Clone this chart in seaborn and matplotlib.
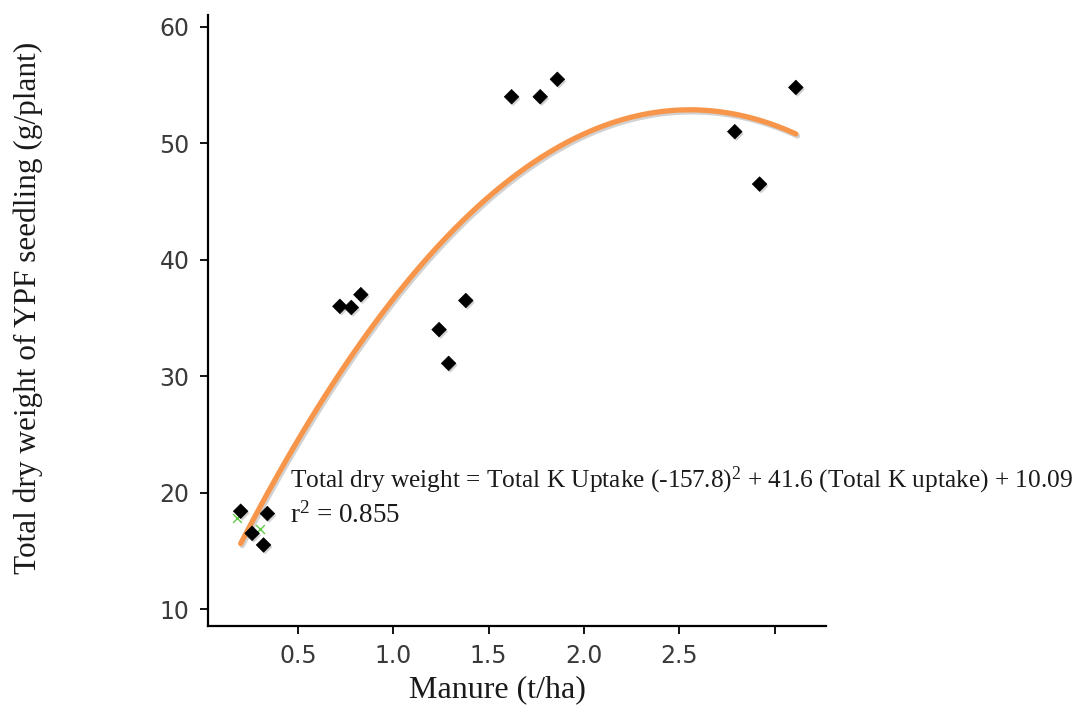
import matplotlib
matplotlib.use("Agg")
import matplotlib.pyplot as plt
import matplotlib.patheffects as pe
import numpy as np
import pandas as pd
import seaborn as sns

# Manure rate (t/ha) and total seedling dry weight (g/plant)
manure = [0.20, 0.34, 0.26, 0.32, 0.72, 0.78, 0.83, 1.24, 1.29, 1.38,
          1.62, 1.77, 1.86, 2.79, 2.92, 3.11]
dry_weight = [18.4, 18.2, 16.5, 15.5, 36.0, 35.9, 37.0, 34.0, 31.1, 36.5,
              54.0, 54.0, 55.5, 51.0, 46.5, 54.8]

# second series, mostly hidden under the first
manure_b = [0.18, 0.30]
dry_weight_b = [17.8, 16.9]

x_ticks = [0.5, 1.0, 1.5, 2.0, 2.5, 3.0]
x_tick_labels = ["0.5", "1.0", "1.5", "2.0", "2.5", ""]
y_ticks = [10, 20, 30, 40, 50, 60]

equation = r"Total dry weight = Total K Uptake (-157.8)$^{2}$ + 41.6 (Total K uptake) + 10.09"
r2_label = r"r$^{2}$ = 0.855"

df = pd.DataFrame({"manure": manure, "dry_weight": dry_weight})
df_b = pd.DataFrame({"manure": manure_b, "dry_weight": dry_weight_b})

sns.set_style("white")
plt.rcParams["font.family"] = ["DejaVu Sans"]
plt.rcParams["mathtext.fontset"] = "custom"
plt.rcParams["mathtext.rm"] = "Liberation Serif"
plt.rcParams["mathtext.it"] = "Liberation Serif:italic"
plt.rcParams["mathtext.default"] = "rm"

fig = plt.figure(figsize=(10.76, 7.10), dpi=100)
ax = fig.add_axes([0.193, 0.1183, 0.768 - 0.193, 0.979 - 0.1183])

shadow = [pe.SimplePatchShadow(offset=(1.2, -1.5), alpha=0.25, shadow_rgbFace="0.3"), pe.Normal()]
line_shadow = [pe.SimpleLineShadow(offset=(1.2, -1.5), alpha=0.25, shadow_color="0.3"), pe.Normal()]

# quadratic trend line
sns.regplot(data=df, x="manure", y="dry_weight", order=2, ci=None, scatter=False,
            truncate=True, ax=ax,
            line_kws=dict(color="#F7964A", lw=3.8, solid_capstyle="round",
                          path_effects=line_shadow, zorder=2))

sns.scatterplot(data=df_b, x="manure", y="dry_weight", marker="x", s=40,
                color="#5DCB45", linewidth=1.0, ax=ax, zorder=3)
sns.scatterplot(data=df, x="manure", y="dry_weight", marker="D", s=55,
                color="black", edgecolor="black", linewidth=0.5, ax=ax, zorder=4)
for coll in ax.collections:
    if coll.get_facecolor().size and np.allclose(coll.get_facecolor()[0][:3], 0):
        coll.set_path_effects(shadow)

ax.set_xlim(0.027, 3.27)
ax.set_ylim(8.54, 61.03)
ax.set_xticks(x_ticks)
ax.set_xticklabels(x_tick_labels)
ax.set_yticks(y_ticks)

for side in ["top", "right"]:
    ax.spines[side].set_visible(False)
for side in ["left", "bottom"]:
    ax.spines[side].set_color("black")
    ax.spines[side].set_linewidth(1.6)

ax.tick_params(axis="both", direction="out", length=6, width=1.3, color="black",
               labelsize=17, labelcolor="#3a3a3a", bottom=True, left=True)
ax.tick_params(axis="x", pad=7)
ax.tick_params(axis="y", pad=7)
ax.set_xlabel("")
ax.set_ylabel("")

serif = ["Liberation Serif", "DejaVu Serif"]
ax.text(0.46, 20.4, equation, fontsize=18.3, family=serif, va="baseline", ha="left",
        color="#1a1a1a")
ax.text(0.46, 17.4, r2_label, fontsize=19.5, family=serif, va="baseline", ha="left",
        color="#1a1a1a")

fig.text(497 / 1076, 1 - 690 / 710, "Manure (t/ha)", fontsize=23, family=serif,
         ha="center", va="center", color="#1a1a1a")
fig.text(28 / 1076, 1 - 308 / 710, "Total dry weight of YPF seedling (g/plant)",
         fontsize=22.5, family=serif, rotation=90, ha="center", va="center", color="#1a1a1a")

fig.savefig("out.png", dpi=100)
